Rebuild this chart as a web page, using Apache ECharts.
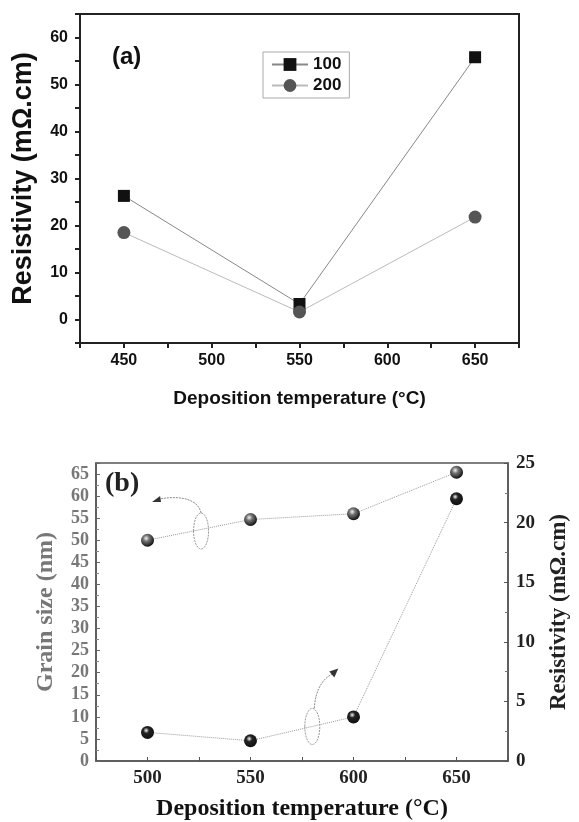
<!doctype html>
<html>
<head>
  <meta charset="utf-8">
  <title>resistivity and grain size</title>
  <script src="https://cdn.jsdelivr.net/npm/echarts@6.0.0/dist/echarts.min.js"></script>
  <style>
    html, body { margin: 0; padding: 0; background: #fff; }
    #main { width: 579px; height: 822px; }
  </style>
</head>
<body>
<div id="main"></div>
<script>
// panel (a)
var tempA = [450, 550, 650];
var res100 = [26.3, 3.3, 55.8];
var res200 = [18.5, 1.6, 21.8];
// panel (b)
var tempB = [500, 550, 600, 650];
var grainSize = [50, 54.7, 56, 65.4];
var resistB = [2.4, 1.7, 3.7, 22.0];

function pairs(xs, ys) {
  return xs.map(function (x, i) { return [x, ys[i]]; });
}

var sans = 'Liberation Sans, Arial, sans-serif';
var serif = 'Liberation Serif, Times New Roman, serif';

function sphere(base) {
  return {
    type: 'radial', x: 0.4, y: 0.35, r: 0.65,
    colorStops: [{ offset: 0, color: '#f4f4f4' }, { offset: 0.35, color: base }, { offset: 1, color: '#111' }]
  };
}

var myChart = echarts.init(document.getElementById('main'));
var option = {
  animation: false,
  backgroundColor: '#fff',
  grid: [
    { left: 80, top: 14, right: 60, bottom: 479, show: true, borderColor: '#222', borderWidth: 2 },
    { left: 96, top: 463, right: 64, bottom: 61, show: true, borderColor: '#555', borderWidth: 1.5 }
  ],
  legend: {
    data: ['100', '200'],
    orient: 'vertical',
    left: 263, top: 52,
    padding: [4, 8],
    itemWidth: 36, itemHeight: 16, itemGap: 4,
    borderColor: '#aaa', borderWidth: 1,
    textStyle: { fontFamily: sans, fontWeight: 'bold', fontSize: 17, color: '#111' }
  },
  graphic: [
    { type: 'text', left: 112, top: 45, style: { text: '(a)', font: 'bold 24px ' + sans, fill: '#111' } },
    { type: 'text', left: 105, top: 470, style: { text: '(b)', font: 'bold 28px ' + serif, fill: '#222' } }
  ],
  xAxis: [
    {
      gridIndex: 0, type: 'value', min: 425, max: 675, interval: 25,
      name: 'Deposition temperature (°C)', nameLocation: 'middle', nameGap: 46,
      nameTextStyle: { fontFamily: sans, fontWeight: 'bold', fontSize: 19, color: '#111' },
      axisLine: { onZero: false, lineStyle: { color: '#222', width: 2 } },
      axisTick: { length: 5, lineStyle: { color: '#222', width: 2 } },
      axisLabel: {
        margin: 10, fontFamily: sans, fontWeight: 'bold', fontSize: 16, color: '#111',
        formatter: function (v) { return v % 50 === 0 ? v : ''; }
      },
      splitLine: { show: false }
    },
    {
      gridIndex: 1, type: 'value', min: 475, max: 675, interval: 25,
      name: 'Deposition temperature (°C)', nameLocation: 'middle', nameGap: 36,
      nameTextStyle: { fontFamily: serif, fontWeight: 'bold', fontSize: 24, color: '#111' },
      axisLine: { onZero: false, lineStyle: { color: '#555', width: 1.5 } },
      axisTick: { inside: true, length: 4, lineStyle: { color: '#555' } },
      axisLabel: {
        margin: 8, fontFamily: serif, fontWeight: 'bold', fontSize: 19, color: '#222',
        formatter: function (v) { return v % 50 === 0 ? v : ''; }
      },
      splitLine: { show: false }
    }
  ],
  yAxis: [
    {
      gridIndex: 0, type: 'value', min: -5, max: 65, interval: 5,
      name: 'Resistivity (mΩ.cm)', nameLocation: 'middle', nameGap: 43, nameRotate: 90,
      nameTextStyle: { fontFamily: sans, fontWeight: 'bold', fontSize: 27, color: '#111' },
      axisLine: { onZero: false, lineStyle: { color: '#222', width: 2 } },
      axisTick: { length: 5, lineStyle: { color: '#222', width: 2 } },
      axisLabel: {
        margin: 12, fontFamily: sans, fontWeight: 'bold', fontSize: 16, color: '#111',
        formatter: function (v) { return v % 10 === 0 ? v : ''; }
      },
      splitLine: { show: false }
    },
    {
      gridIndex: 1, type: 'value', min: 0, max: 67.5, interval: 5,
      name: 'Grain size (nm)', nameLocation: 'middle', nameGap: 38, nameRotate: 90,
      nameTextStyle: { fontFamily: serif, fontWeight: 'bold', fontSize: 24, color: '#777' },
      axisLine: { onZero: false, lineStyle: { color: '#555', width: 1.5 } },
      axisTick: { inside: true, length: 4, lineStyle: { color: '#666' } },
      minorTick: { show: true, splitNumber: 2, length: 3, lineStyle: { color: '#888' } },
      axisLabel: {
        margin: 7, fontFamily: serif, fontWeight: 'bold', fontSize: 18, color: '#777',
        formatter: function (v) { return (v % 5 === 0 && v <= 65) ? v : ''; }
      },
      splitLine: { show: false }
    },
    {
      gridIndex: 1, type: 'value', position: 'right', min: 0, max: 25, interval: 5,
      name: 'Resistivity (mΩ.cm)', nameLocation: 'middle', nameGap: 40, nameRotate: 90,
      nameTextStyle: { fontFamily: serif, fontWeight: 'bold', fontSize: 23, color: '#222' },
      axisLine: { onZero: false, lineStyle: { color: '#555', width: 1.5 } },
      axisTick: { inside: true, length: 4, lineStyle: { color: '#555' } },
      minorTick: { show: true, splitNumber: 2, length: 3, lineStyle: { color: '#777' } },
      axisLabel: { margin: 8, fontFamily: serif, fontWeight: 'bold', fontSize: 19, color: '#222' },
      splitLine: { show: false }
    }
  ],
  series: [
    {
      name: '100', type: 'line', xAxisIndex: 0, yAxisIndex: 0,
      data: pairs(tempA, res100),
      symbol: 'rect', symbolSize: 12,
      itemStyle: { color: '#111' },
      lineStyle: { color: '#888', width: 1 }
    },
    {
      name: '200', type: 'line', xAxisIndex: 0, yAxisIndex: 0,
      data: pairs(tempA, res200),
      symbol: 'circle', symbolSize: 13,
      itemStyle: { color: '#555' },
      lineStyle: { color: '#bbb', width: 1 }
    },
    {
      name: 'Grain size', type: 'line', xAxisIndex: 1, yAxisIndex: 1,
      data: pairs(tempB, grainSize),
      symbol: 'circle', symbolSize: 13,
      itemStyle: { color: sphere('#777') },
      lineStyle: { color: '#999', width: 1, type: 'dotted' }
    },
    {
      name: 'Resistivity', type: 'line', xAxisIndex: 1, yAxisIndex: 2,
      data: pairs(tempB, resistB),
      symbol: 'circle', symbolSize: 13,
      itemStyle: { color: sphere('#222') },
      lineStyle: { color: '#999', width: 1, type: 'dotted' }
    }
  ]
};
myChart.setOption(option);

// ellipse + curved arrow markers pointing each series to its axis
function marker(p, dir) {
  var cx = p[0], cy = p[1];
  var items = [{
    type: 'ellipse', shape: { cx: cx, cy: cy, rx: 7.5, ry: 18 },
    style: { fill: 'none', stroke: '#999', lineWidth: 1, lineDash: [2, 1] }
  }];
  if (dir < 0) {
    items.push({
      type: 'bezierCurve',
      shape: { x1: cx, y1: cy - 18, cpx1: cx - 3, cpy1: cy - 31, cpx2: cx - 18, cpy2: cy - 36, x2: cx - 42, y2: cy - 32 },
      style: { fill: 'none', stroke: '#888', lineWidth: 1, lineDash: [2, 1] }
    });
    items.push({
      type: 'polygon',
      shape: { points: [[cx - 49, cy - 29], [cx - 41, cy - 35], [cx - 40, cy - 29]] },
      style: { fill: '#333' }
    });
  } else {
    items.push({
      type: 'bezierCurve',
      shape: { x1: cx + 2, y1: cy - 18, cpx1: cx + 3, cpy1: cy - 36, cpx2: cx + 10, cpy2: cy - 48, x2: cx + 21, y2: cy - 53 },
      style: { fill: 'none', stroke: '#888', lineWidth: 1, lineDash: [2, 1] }
    });
    items.push({
      type: 'polygon',
      shape: { points: [[cx + 26, cy - 58], [cx + 17, cy - 55], [cx + 22, cy - 49]] },
      style: { fill: '#333' }
    });
  }
  return items;
}

var pGrain = myChart.convertToPixel({ xAxisIndex: 1, yAxisIndex: 1 }, [526, 52.1]);
var pRes = myChart.convertToPixel({ xAxisIndex: 1, yAxisIndex: 2 }, [580, 2.9]);
myChart.setOption({
  graphic: option.graphic.concat(marker(pGrain, -1), marker(pRes, 1))
});
</script>
</body>
</html>
